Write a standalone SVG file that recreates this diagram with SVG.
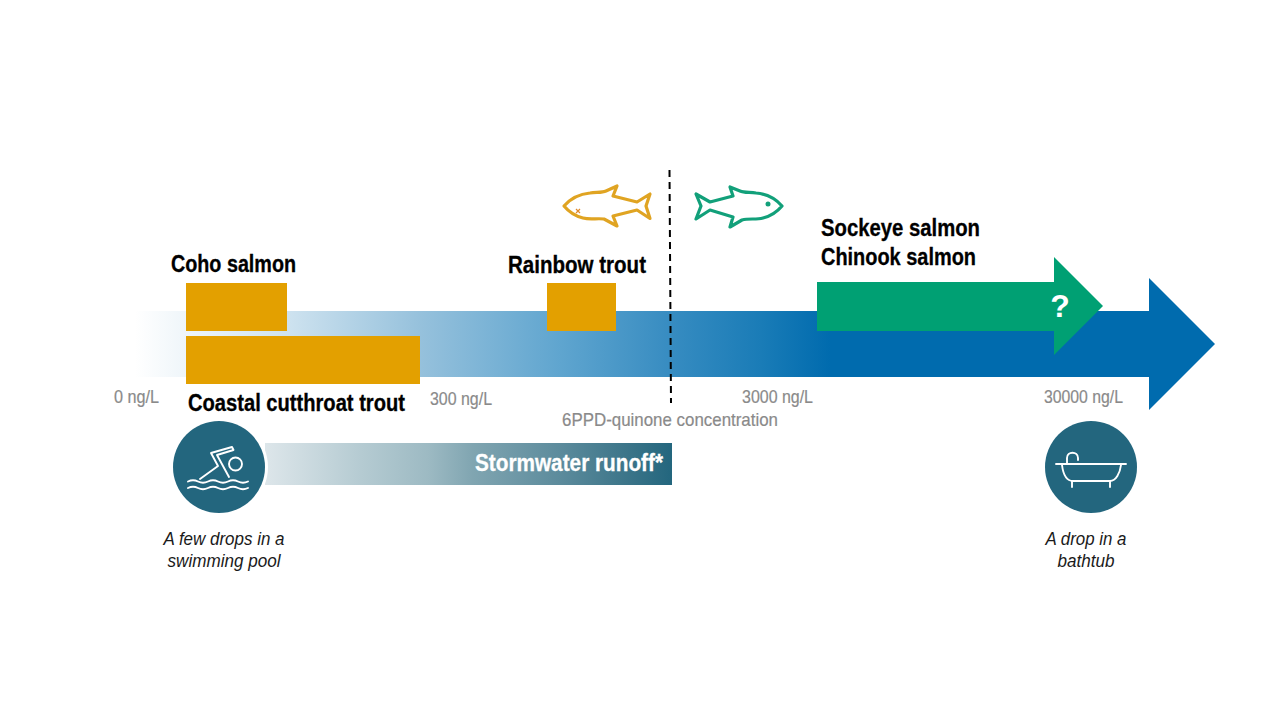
<svg xmlns="http://www.w3.org/2000/svg" width="1280" height="720" viewBox="0 0 1280 720">
<style>
text{font-family:"Liberation Sans",Arial,sans-serif}
.sp{font-size:23px;font-weight:700;fill:#000;stroke:#000;stroke-width:.3}
.ax{font-size:19px;fill:#8a8a8a;stroke:#8a8a8a;stroke-width:.2}
.cap{font-size:18px;font-style:italic;fill:#1a1a1a;text-anchor:middle}
.bar{fill:#e3a000}
.ic{fill:none;stroke:#fff;stroke-width:1.9;stroke-linecap:round;stroke-linejoin:round}
.fish{fill:#fff;stroke-width:3.200;stroke-linejoin:round}
</style>
<defs>
<linearGradient id="blue" gradientUnits="userSpaceOnUse" x1="135" y1="0" x2="830" y2="0">
<stop offset="0" stop-color="#fff"/><stop offset="0.223" stop-color="#cde2ef"/><stop offset="0.41" stop-color="#96c1dc"/><stop offset="0.612" stop-color="#5fa5cf"/><stop offset="0.77" stop-color="#378cc1"/><stop offset="0.9" stop-color="#1a7cb7"/><stop offset="1" stop-color="#006bae"/>
</linearGradient>
<linearGradient id="teal" gradientUnits="userSpaceOnUse" x1="265" y1="0" x2="672" y2="0">
<stop offset="0" stop-color="#dde6ea"/><stop offset="0.236" stop-color="#b5cbd2"/><stop offset="0.4" stop-color="#9dbac3"/><stop offset="0.511" stop-color="#80a5b1"/><stop offset="0.725" stop-color="#5c8b9c"/><stop offset="0.888" stop-color="#3c7589"/><stop offset="1" stop-color="#23667e"/>
</linearGradient>
</defs>
<rect width="1280" height="720" fill="#fff"/>
<g id="connectors">
<path id="axis-arrow" fill="url(#blue)" d="M135 311H1149V278L1215 344L1149 410V377H135Z"/>
<path id="concentration-threshold" d="M669.500 170L671 403" fill="none" stroke="#000" stroke-width="2" stroke-dasharray="7 5"/>
</g>
<g id="node-coho"><rect class="bar" x="186" y="283" width="101" height="48"/><text class="sp" x="171" y="272" textLength="125" lengthAdjust="spacingAndGlyphs">Coho salmon</text></g>
<g id="node-cutthroat"><rect class="bar" x="186" y="336" width="234" height="48"/><text class="sp" x="188" y="411" textLength="217" lengthAdjust="spacingAndGlyphs">Coastal cutthroat trout</text></g>
<g id="node-rainbow"><rect class="bar" x="547" y="283" width="69" height="48"/><text class="sp" x="508" y="273" textLength="138" lengthAdjust="spacingAndGlyphs">Rainbow trout</text></g>
<g id="node-sockeye-chinook">
<path fill="#00a073" d="M817 282H1054V257L1103 306L1054 355V331H817Z"/>
<text x="1060" y="317" font-size="32" font-weight="700" fill="#fff" text-anchor="middle">?</text>
<text class="sp" x="821" y="236" textLength="159" lengthAdjust="spacingAndGlyphs">Sockeye salmon</text>
<text class="sp" x="821" y="265" textLength="155" lengthAdjust="spacingAndGlyphs">Chinook salmon</text>
</g>
<g id="fish-dead">
<path class="fish" stroke="#e0a422" d="M564 206C571 198 579 194 590 193C596 192 602 193 606 191L617 186L613 196L637 202L650 194L646 206L650 218.500L637 210L613 216L617 226L604 219C597 218 590 220 583 218C575 216 569 212 564 206Z"/>
<path d="M576 209L580 213M580 209L576 213" stroke="#e08a2a" stroke-width="1.200" fill="none"/>
</g>
<g id="fish-alive">
<path class="fish" stroke="#12a07a" d="M782 206C775 198 767 194 756 193C750 192 744 193 740 191L730 187L733 196L710 202L696 194L701 206L696 219L710 210L733 217L730 227L742 220C749 218 756 220 763 218C771 216 777 212 782 206Z"/>
<circle cx="768" cy="204" r="2.500" fill="#12a07a"/>
</g>
<g id="axis-labels">
<text class="ax" x="114" y="403" textLength="45" lengthAdjust="spacingAndGlyphs">0 ng/L</text>
<text class="ax" x="430" y="405" textLength="62" lengthAdjust="spacingAndGlyphs">300 ng/L</text>
<text class="ax" x="742" y="403" textLength="71" lengthAdjust="spacingAndGlyphs">3000 ng/L</text>
<text class="ax" x="1044" y="403" textLength="79" lengthAdjust="spacingAndGlyphs">30000 ng/L</text>
<text class="ax" x="562" y="426" textLength="216" lengthAdjust="spacingAndGlyphs">6PPD-quinone concentration</text>
</g>
<g id="node-runoff">
<rect x="265" y="443" width="407" height="42" fill="url(#teal)"/>
<text x="475" y="471" font-size="23" font-weight="700" fill="#fff" stroke="#fff" stroke-width=".3" textLength="188" lengthAdjust="spacingAndGlyphs">Stormwater runoff*</text>
</g>
<g id="node-pool">
<circle cx="219" cy="467" r="49" fill="#fff"/>
<circle cx="219" cy="467" r="46" fill="#23667e"/>
<g class="ic">
<circle cx="235.500" cy="464" r="6.500"/>
<path d="M200 479L218 466L211 453L232 447L233.500 450L217 455L229 477"/>
<path d="M188 481.500q5 -2.500 10 0t10 0t10 0t10 0t10 0t10 0"/>
<path d="M188 488q5 -2.500 10 0t10 0t10 0t10 0t10 0t10 0"/>
</g>
<text class="cap" x="224" y="545" textLength="121" lengthAdjust="spacingAndGlyphs">A few drops in a</text>
<text class="cap" x="224" y="567" textLength="113" lengthAdjust="spacingAndGlyphs">swimming pool</text>
</g>
<g id="node-bathtub">
<circle cx="1091" cy="467" r="46" fill="#23667e"/>
<g class="ic">
<path d="M1056 464H1126"/>
<path d="M1062 465C1063 473 1066 481 1073 481H1110C1116 481 1120 473 1121 465"/>
<path d="M1072 481V487M1110 481V487"/>
<path d="M1067 463V458C1067 451 1078 451 1078 458V460"/>
</g>
<text class="cap" x="1086" y="545" textLength="81" lengthAdjust="spacingAndGlyphs">A drop in a</text>
<text class="cap" x="1086" y="567" textLength="57" lengthAdjust="spacingAndGlyphs">bathtub</text>
</g>
</svg>
